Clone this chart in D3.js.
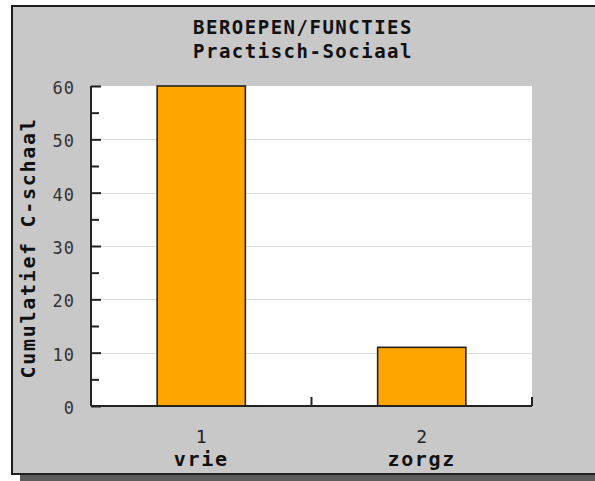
<!DOCTYPE html>
<html>
<head>
<meta charset="utf-8">
<script src="https://cdn.jsdelivr.net/npm/d3@7"></script>
<style>
  html, body { margin: 0; padding: 0; background: #ffffff; }
  svg { display: block; }
  text { font-family: "DejaVu Sans Mono", "Liberation Mono", monospace; }
</style>
</head>
<body>
<svg id="chart" width="595" height="481"></svg>
<script>
const categories = ["1", "2"];
const categoryNames = ["vrie", "zorgz"];
const values = [60, 11];
const yTicks = [0, 10, 20, 30, 40, 50, 60];
const yMinorTicks = [5, 15, 25, 35, 45, 55];
const titleLines = ["BEROEPEN/FUNCTIES", "Practisch-Sociaal"];
const yTitle = "Cumulatief C-schaal";

const svg = d3.select("#chart");
const W = 595, H = 481;
const plot = { left: 91, right: 532, top: 86, bottom: 406 };

// frame + shadow
svg.append("rect").attr("x", 20).attr("y", 475).attr("width", W).attr("height", 6)
  .attr("fill", "#5c5c5c");
svg.append("rect").attr("x", 12).attr("y", 6).attr("width", W + 10).attr("height", 468)
  .attr("fill", "#c8c8c8").attr("stroke", "#1e1e1e").attr("stroke-width", 2);

// plot background
svg.append("rect").attr("x", plot.left).attr("y", plot.top)
  .attr("width", plot.right - plot.left).attr("height", plot.bottom - plot.top)
  .attr("fill", "#ffffff");

const x = d3.scaleBand().domain(categories).range([plot.left, plot.right])
  .paddingInner(0.6).paddingOuter(0.3);
const y = d3.scaleLinear().domain([0, 60]).range([plot.bottom, plot.top]);

// gridlines
svg.append("g").selectAll("line").data(yTicks.filter(d => d > 0 && d < 60)).join("line")
  .attr("x1", plot.left).attr("x2", plot.right)
  .attr("y1", d => Math.round(y(d)) + 0.5).attr("y2", d => Math.round(y(d)) + 0.5)
  .attr("stroke", "#dcdcdc").attr("stroke-width", 1);

// bars
svg.append("g").selectAll("rect").data(values).join("rect")
  .attr("x", (d, i) => x(categories[i]))
  .attr("y", d => y(d))
  .attr("width", x.bandwidth())
  .attr("height", d => y(0) - y(d))
  .attr("fill", "#ffa500")
  .attr("stroke", "#222222")
  .attr("stroke-width", 1.6);

// y axis (ticks inward)
const yAxis = d3.axisRight(y).tickValues(yTicks).tickSize(10).tickFormat("");
const gy = svg.append("g").attr("transform", `translate(${plot.left},0)`).call(yAxis);
gy.select(".domain").attr("stroke", "#222").attr("stroke-width", 2).attr("d", `M0,${plot.top}V${plot.bottom}`);
gy.selectAll(".tick line").attr("stroke", "#222").attr("stroke-width", 2);
const yAxisMinor = d3.axisRight(y).tickValues(yMinorTicks).tickSize(8).tickFormat("");
const gym = svg.append("g").attr("transform", `translate(${plot.left},0)`).call(yAxisMinor);
gym.select(".domain").remove();
gym.selectAll(".tick line").attr("stroke", "#222").attr("stroke-width", 2);

// y tick labels
svg.append("g").selectAll("text").data(yTicks).join("text")
  .attr("x", 75).attr("y", d => y(d) + 2)
  .attr("dy", "0.35em")
  .attr("text-anchor", "end")
  .attr("font-size", 17).attr("letter-spacing", 1)
  .attr("fill", "#333")
  .text(d => d);

// x axis
const boundaries = [plot.left + x.step(), plot.right];
svg.append("line").attr("x1", plot.left).attr("x2", plot.right)
  .attr("y1", plot.bottom).attr("y2", plot.bottom)
  .attr("stroke", "#222").attr("stroke-width", 2);
svg.append("g").selectAll("line").data(boundaries).join("line")
  .attr("x1", d => d).attr("x2", d => d)
  .attr("y1", plot.bottom).attr("y2", plot.bottom - 9)
  .attr("stroke", "#222").attr("stroke-width", 2);

// x labels
svg.append("g").selectAll("text").data(categories).join("text")
  .attr("x", d => x(d) + x.bandwidth() / 2).attr("y", 443)
  .attr("text-anchor", "middle").attr("font-size", 18).attr("fill", "#222")
  .text(d => d);
svg.append("g").selectAll("text").data(categoryNames).join("text")
  .attr("x", (d, i) => x(categories[i]) + x.bandwidth() / 2).attr("y", 466)
  .attr("text-anchor", "middle").attr("font-size", 20).attr("font-weight", "bold")
  .attr("letter-spacing", 1.7).attr("fill", "#111")
  .text(d => d);

// title
svg.append("g").selectAll("text").data(titleLines).join("text")
  .attr("x", 303).attr("y", (d, i) => 34 + i * 24)
  .attr("text-anchor", "middle").attr("font-size", 19).attr("font-weight", "bold")
  .attr("letter-spacing", 1.5).attr("fill", "#111")
  .text(d => d);

// y title
svg.append("text")
  .attr("transform", `translate(35,${(plot.top + plot.bottom) / 2 + 2}) rotate(-90)`)
  .attr("text-anchor", "middle").attr("font-size", 20).attr("font-weight", "bold")
  .attr("letter-spacing", 1.7).attr("fill", "#111")
  .text(yTitle);
</script>
</body>
</html>
